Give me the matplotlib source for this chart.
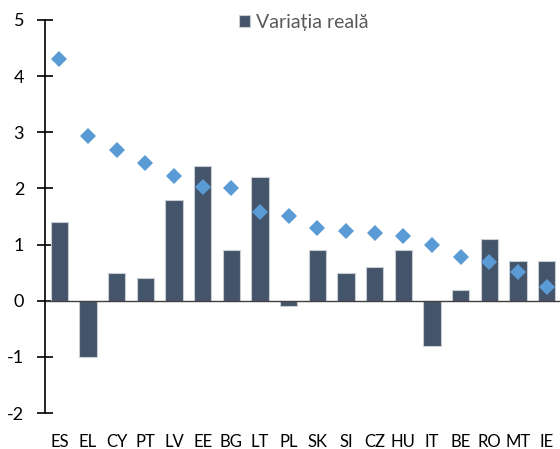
import matplotlib.pyplot as plt
import numpy as np

countries = ["ES", "EL", "CY", "PT", "LV", "EE", "BG", "LT", "PL",
             "SK", "SI", "CZ", "HU", "IT", "BE", "RO", "MT", "IE"]
real_change = [1.4, -1.0, 0.5, 0.4, 1.8, 2.4, 0.9, 2.2, -0.1,
               0.9, 0.5, 0.6, 0.9, -0.8, 0.2, 1.1, 0.7, 0.7]
diamond_vals = [4.30, 2.94, 2.69, 2.46, 2.23, 2.02, 2.00, 1.58, 1.51,
                1.29, 1.25, 1.21, 1.16, 1.00, 0.78, 0.69, 0.52, 0.24]
yticks = [-2, -1, 0, 1, 2, 3, 4, 5]

plt.rcParams["font.family"] = ["Lato", "DejaVu Sans"]

fig = plt.figure(figsize=(5.6, 4.49), dpi=100)
ax = fig.add_axes([45 / 560, 0.080, 516 / 560, 0.8755])

x = np.arange(len(countries))
ax.bar(x, real_change, width=0.61, color="#44546A", edgecolor="#C8CDD4",
       linewidth=0.8, label="Variația reală", zorder=2)
ax.plot(x, diamond_vals, linestyle="none", marker="D", markersize=8,
        color="#5B9BD5", markeredgewidth=0, zorder=3)
ax.axhline(0, color="#404040", linewidth=1.0, zorder=2.5)

ax.set_xlim(-0.5, len(countries) - 0.5)
ax.set_ylim(-2, 5)
ax.set_yticks(yticks)
ax.set_yticklabels([str(v) for v in yticks], fontsize=13)
ax.tick_params(axis="y", direction="inout", length=12, width=1.2, pad=9)
ax.set_xticks(x)
ax.set_xticklabels(countries, fontsize=12)
ax.tick_params(axis="x", length=0, pad=15)

for s in ["top", "right", "bottom"]:
    ax.spines[s].set_visible(False)
ax.spines["left"].set_linewidth(1.2)

leg = ax.legend(loc="center", bbox_to_anchor=(0.502, 0.993), frameon=False,
                fontsize=14, handlelength=0.57, handleheight=0.57,
                handletextpad=0.3, borderpad=0, borderaxespad=0)
for t in leg.get_texts():
    t.set_color("#595959")

fig.savefig("out.png", dpi=100)
